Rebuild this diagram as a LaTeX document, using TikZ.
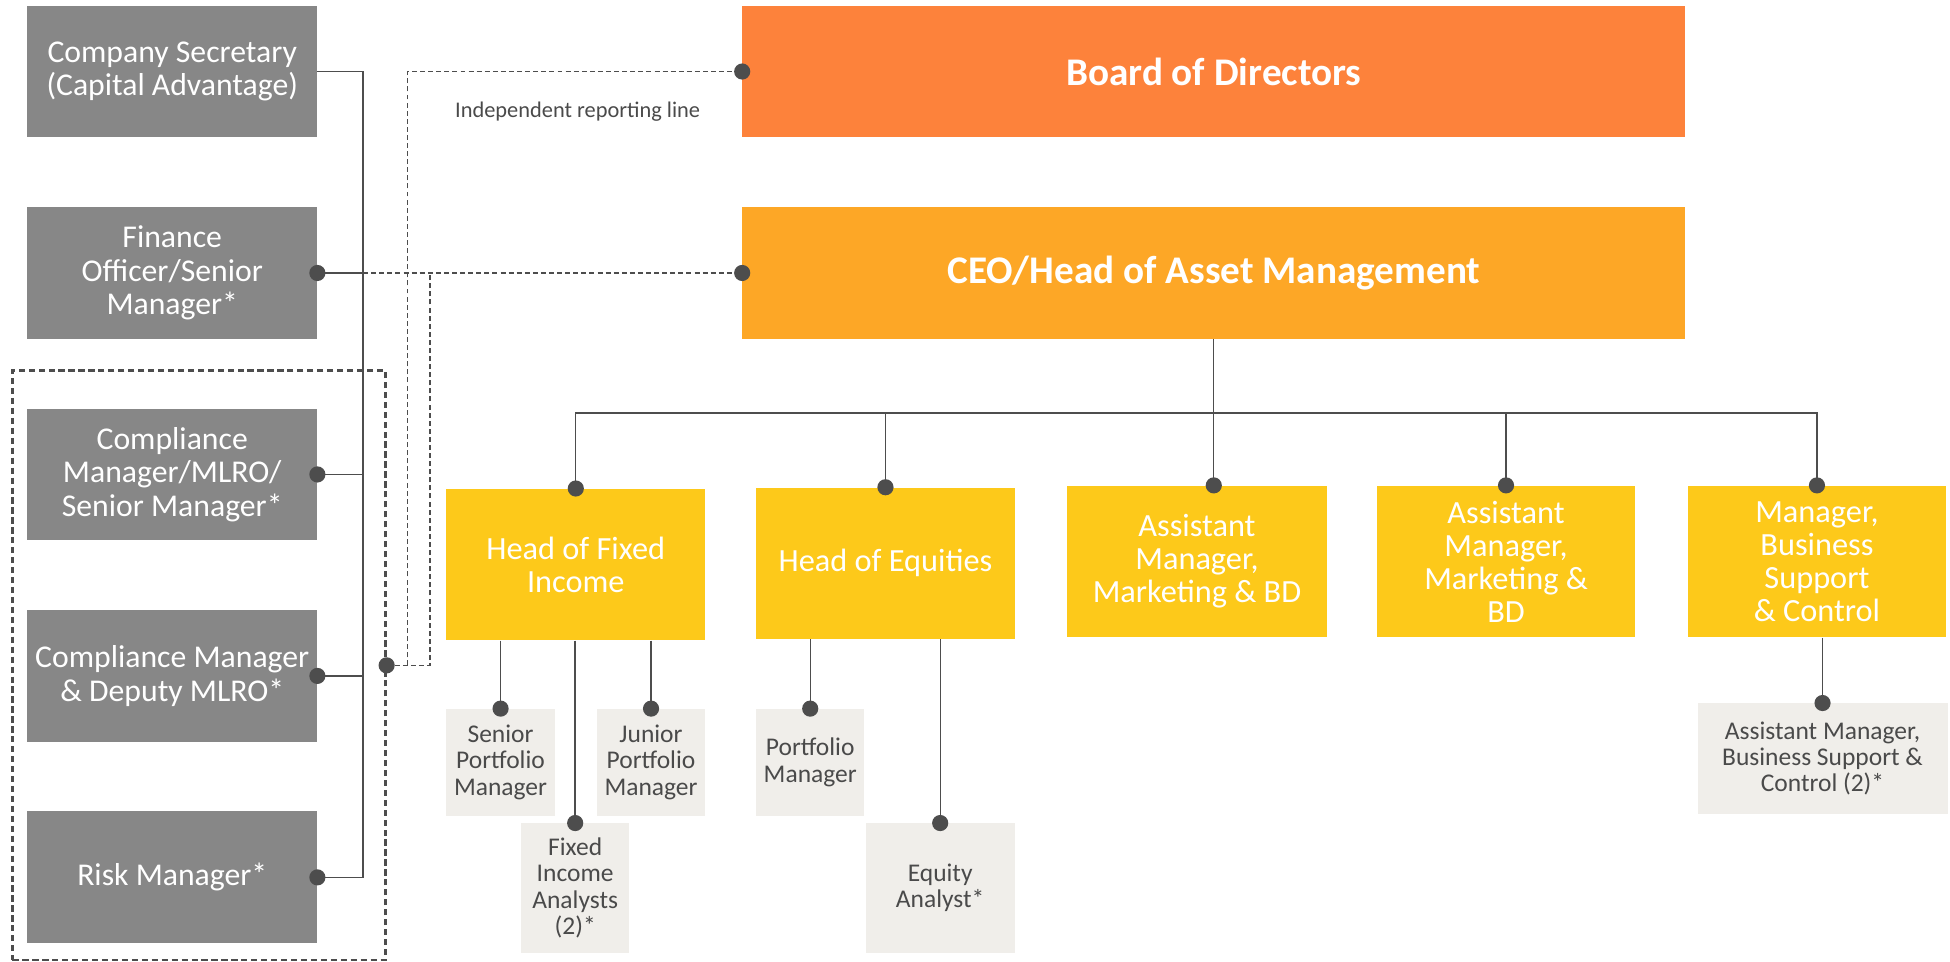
\documentclass[tikz,border=0pt]{standalone}
\usepackage{fontspec}
\setmainfont{Carlito}
\definecolor{orangeA}{HTML}{FD823B}
\definecolor{orangeB}{HTML}{FDA726}
\definecolor{yellowA}{HTML}{FDC91A}
\definecolor{greyA}{HTML}{878787}
\definecolor{lightA}{HTML}{F0EEEA}
\definecolor{lineA}{HTML}{4D4D4D}
\definecolor{textA}{HTML}{4A4A4A}
\tikzset{
  box/.style={inner sep=0pt, align=center, text=white},
  gbox/.style={box, fill=greyA, minimum width=233pt, minimum height=106pt, font=\fontsize{25.5}{27}\selectfont},
  topbox/.style={box, minimum width=758pt, minimum height=105pt, font=\bfseries\fontsize{31.5}{33}\selectfont},
  ybox/.style={box, fill=yellowA, minimum width=208pt, minimum height=122pt, font=\fontsize{26}{26.5}\selectfont},
  lbox/.style={inner sep=0pt, align=center, fill=lightA, text=textA, font=\fontsize{20.5}{21}\selectfont},
  conn/.style={draw=lineA, line width=1.1pt},
  dconn/.style={draw=lineA, line width=1pt, dash pattern=on 4pt off 2.5pt},
  grpbox/.style={draw=lineA, line width=1.8pt, dash pattern=on 5pt off 3pt, minimum width=300pt, minimum height=474pt, inner sep=0pt},
}
\newcommand{\jdot}[1]{\fill[lineA] (#1) circle (6.5pt);}
\begin{document}
\begin{tikzpicture}[x=1pt,y=-1pt]
\useasboundingbox (0,0) rectangle (1568,773.5);
% group box
\node[grpbox] (grp) at (160,535) {};
% left column
\node[gbox] (cs)  at (138.5,57.5)  {Company Secretary\\(Capital Advantage)};
\node[gbox] (fo)  at (138.5,219.5) {Finance\\Officer/Senior\\Manager*};
\node[gbox] (cm1) at (138.5,381.5) {Compliance\\Manager/MLRO/\\Senior Manager*};
\node[gbox] (cm2) at (138.5,543.5) {Compliance Manager\\\& Deputy MLRO*};
\node[gbox] (rm)  at (138.5,705.5) {Risk Manager*};
% top
\node[topbox, fill=orangeA] (bod) at (976,57.5) {Board of Directors};
\node[topbox, fill=orangeB, minimum height=106pt] (ceo) at (976,219.5) {CEO/Head of Asset Management};
\node[font=\fontsize{18}{20}\selectfont, text=textA, inner sep=0pt] (lbl) at (464.5,90) {Independent reporting line};
% level 2
\node[ybox] (hfi) at (463,454) {Head of Fixed\\Income};
\node[ybox] (heq) at (712,453) {Head of Equities};
\node[ybox, minimum width=209pt] (am1) at (962.5,451.5) {Assistant\\Manager,\\Marketing \& BD};
\node[ybox] (am2) at (1211,451.5) {Assistant\\Manager,\\Marketing \&\\BD};
\node[ybox] (mbs) at (1461,451.5) {Manager,\\Business\\Support\\\& Control};
% level 3
\node[lbox, minimum width=87pt, minimum height=86pt] (spm) at (402.5,613) {Senior\\Portfolio\\Manager};
\node[lbox, minimum width=87pt, minimum height=86pt] (jpm) at (523.5,613) {Junior\\Portfolio\\Manager};
\node[lbox, minimum width=87pt, minimum height=104pt] (fia) at (462.5,714) {Fixed\\Income\\Analysts\\(2)*};
\node[lbox, minimum width=87pt, minimum height=86pt] (pm) at (651.5,613) {Portfolio\\Manager};
\node[lbox, minimum width=120pt, minimum height=104pt] (ea) at (756,714) {Equity\\Analyst*};
\node[lbox, minimum width=201pt, minimum height=89pt] (ambs) at (1465.5,610) {Assistant Manager,\\Business Support \&\\Control (2)*};
% helper coordinates
\coordinate (busy) at (0,332);
\coordinate (vx) at (292,0);
\coordinate (d1) at (327.8,0);
\coordinate (d2) at (345.7,0);
% CEO tree
\draw[conn] (ceo.south) -- (ceo.south |- am1.north);
\draw[conn] (hfi.north) -- (busy -| hfi.north) -- (busy -| mbs.north) -- (mbs.north);
\draw[conn] (busy -| heq.north) -- (heq.north);
\draw[conn] (busy -| am2.north) -- (am2.north);
\jdot{hfi.north}\jdot{heq.north}\jdot{ceo.south |- am1.north}\jdot{am2.north}\jdot{mbs.north}
% level 3 links
\draw[conn] (hfi.south -| spm.north) -- (spm.north);
\draw[conn] (hfi.south -| jpm.north) -- (jpm.north);
\draw[conn] (hfi.south -| fia.north) -- (fia.north);
\draw[conn] (heq.south -| pm.north) -- (pm.north);
\draw[conn] (heq.south -| ea.north) -- (ea.north);
\draw[conn] (mbs.south -| ambs.north) -- (ambs.north);
\jdot{spm.north}\jdot{jpm.north}\jdot{fia.north}\jdot{pm.north}\jdot{ea.north}\jdot{ambs.north}
% left column links
\draw[conn] (cs.east) -- (cs.east -| vx) -- (rm.east -| vx) -- (rm.east);
\draw[conn] (fo.east) -- (fo.east -| vx);
\draw[conn] (cm1.east) -- (cm1.east -| vx);
\draw[conn] (cm2.east) -- (cm2.east -| vx);
\jdot{fo.east}\jdot{cm1.east}\jdot{cm2.east}\jdot{rm.east}
% dashed reporting lines
\draw[dconn] (fo.east -| vx) -- (ceo.west);
\draw[dconn] (grp.east) -- (grp.east -| d2) -- (fo.east -| d2);
\draw[dconn] (grp.east -| d1) -- (bod.west -| d1) -- (bod.west);
\jdot{grp.east}\jdot{bod.west}\jdot{ceo.west}
\end{tikzpicture}
\end{document}
